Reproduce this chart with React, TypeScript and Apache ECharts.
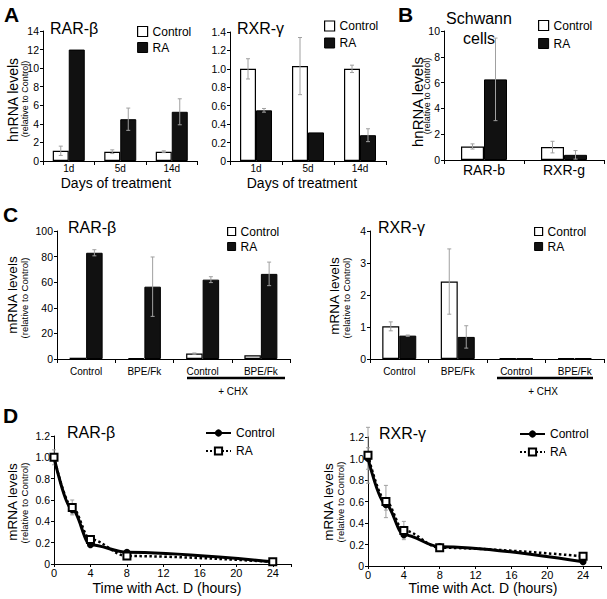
import React, { useEffect, useRef } from 'react';
import * as echarts from 'echarts';

const FONT = '"Liberation Sans", Arial, Helvetica, sans-serif';

// ---------- Panel A: hnRNA, days of treatment ----------
const daysCats = ['1d', '5d', '14d'];
const aRarControl = [1.1, 1.0, 1.0];
const aRarControlErr = [0.5, 0.2, 0.1];
const aRarRA = [12.0, 4.5, 5.3];
const aRarRAErr = [0, 1.2, 1.4];
const aRxrControl = [1.0, 1.03, 1.0];
const aRxrControlErr = [0.11, 0.31, 0.04];
const aRxrRA = [0.55, 0.31, 0.28];
const aRxrRAErr = [0.02, 0, 0.07];

// ---------- Panel B: Schwann cells ----------
const bCats = ['RAR-b', 'RXR-g'];
const bControl = [1.05, 1.0];
const bControlErr = [0.2, 0.45];
const bRA = [6.25, 0.4];
const bRAErr = [3.2, 0.33];

// ---------- Panel C: mRNA ----------
const cCats = ['Control', 'BPE/Fk', 'Control', 'BPE/Fk'];
const cRarControl = [1.0, 0.7, 4.2, 2.9];
const cRarControlErr = [0, 0, 0.5, 0];
const cRarRA = [83, 56.5, 62, 66.5];
const cRarRAErr = [2.4, 23.2, 2.3, 9.2];
const cRxrControl = [1.02, 2.42, 0.02, 0.02];
const cRxrControlErr = [0.14, 1.02, 0, 0];
const cRxrRA = [0.73, 0.69, 0.02, 0.03];
const cRxrRAErr = [0.02, 0.35, 0, 0];

// ---------- Panel D: time with Act. D ----------
const dHours = [0, 2, 4, 8, 24];
const dRarControl = [1.0, 0.51, 0.18, 0.11, 0.02];
const dRarControlErr = [0.07, 0.04, 0.01, 0.01, 0];
const dRarRA = [1.0, 0.53, 0.23, 0.075, 0.02];
const dRarRAErr = [0.03, 0.07, 0.02, 0.01, 0];
const dRxrControl = [1.0, 0.57, 0.29, 0.18, 0.04];
const dRxrControlErr = [0.1, 0.05, 0.03, 0.02, 0];
const dRxrRA = [1.03, 0.6, 0.33, 0.17, 0.09];
const dRxrRAErr = [0.26, 0.15, 0.085, 0.02, 0];

const dec1 = (v: number) => (v === 0 ? '0' : v.toFixed(1));

function barErrData(ctrl: number[], ctrlErr: number[], ra: number[], raErr: number[]) {
  const out: number[][] = [];
  ctrl.forEach((v, i) => { if (ctrlErr[i] > 0) out.push([i, v, ctrlErr[i], -1]); });
  ra.forEach((v, i) => { if (raErr[i] > 0) out.push([i, v, raErr[i], 1]); });
  return out;
}
function pointErrData(xs: number[], ys: number[], errs: number[]) {
  const out: number[][] = [];
  xs.forEach((x, i) => { if (errs[i] > 0) out.push([x, ys[i], errs[i], 0]); });
  return out;
}

function errSeries(gi: number, data: number[][], halfOffset: number, z = 4) {
  return {
    type: 'custom',
    xAxisIndex: gi,
    yAxisIndex: gi,
    data,
    z,
    silent: true,
    encode: { x: 0, y: 1 },
    renderItem: (params: any, api: any) => {
      const x0 = api.value(0);
      const v = api.value(1);
      const e = api.value(2);
      const side = api.value(3);
      const p1 = api.coord([x0, v + e]);
      const p2 = api.coord([x0, Math.max(0, v - e)]);
      const x = p1[0] + side * halfOffset;
      const c = 2;
      const st = { stroke: '#a0a0a0', lineWidth: 1 };
      return {
        type: 'group',
        children: [
          { type: 'line', shape: { x1: x, y1: p1[1], x2: x, y2: p2[1] }, style: st },
          { type: 'line', shape: { x1: x - c, y1: p1[1], x2: x + c, y2: p1[1] }, style: st },
          { type: 'line', shape: { x1: x - c, y1: p2[1], x2: x + c, y2: p2[1] }, style: st },
        ],
      };
    },
  };
}

const axisLine = { show: true, lineStyle: { color: '#000', width: 1 } };

function catX(gi: number, data: string[], fs: number, margin: number) {
  return {
    type: 'category',
    gridIndex: gi,
    data,
    axisLine,
    axisTick: { show: true, length: 4, lineStyle: { color: '#000' } },
    axisLabel: { color: '#000', fontSize: fs, fontFamily: FONT, margin, interval: 0 },
    splitLine: { show: false },
  };
}
function valY(gi: number, max: number, interval: number, fmt?: any) {
  return {
    type: 'value',
    gridIndex: gi,
    min: 0,
    max,
    interval,
    axisLine,
    axisTick: { show: true, length: 3, lineStyle: { color: '#000' } },
    axisLabel: { color: '#000', fontSize: 10.5, fontFamily: FONT, margin: 4, formatter: fmt },
    splitLine: { show: false },
  };
}
function timeX(gi: number) {
  return {
    type: 'value',
    gridIndex: gi,
    min: 0,
    max: 26,
    interval: 4,
    axisLine,
    axisTick: { show: true, length: 3, lineStyle: { color: '#000' } },
    axisLabel: {
      color: '#000', fontSize: 11, fontFamily: FONT, margin: 3,
      formatter: (v: number) => (v % 4 === 0 ? String(v) : ''),
    },
    splitLine: { show: false },
  };
}

const ctrlStyle = { color: '#fff', borderColor: '#000', borderWidth: 1.2 };
const raStyle = { color: '#111', borderColor: '#000', borderWidth: 1 };

function barPair(gi: number, ctrl: number[], ra: number[], bw: number) {
  return [
    { type: 'bar', name: 'Control', xAxisIndex: gi, yAxisIndex: gi, data: ctrl, barWidth: bw, barGap: '0%', itemStyle: ctrlStyle, z: 2 },
    { type: 'bar', name: 'RA', xAxisIndex: gi, yAxisIndex: gi, data: ra, barWidth: bw, barGap: '0%', itemStyle: raStyle, z: 2 },
  ];
}

function linePair(gi: number, ctrl: number[], ra: number[]) {
  return [
    {
      type: 'line', name: 'D-Control', xAxisIndex: gi, yAxisIndex: gi,
      data: dHours.map((h, i) => [h, ctrl[i]]),
      smooth: 0.35, smoothMonotone: 'x',
      symbol: 'circle', symbolSize: 7,
      lineStyle: { color: '#000', width: 3 },
      itemStyle: { color: '#000' }, z: 5,
    },
    {
      type: 'line', name: 'D-RA', xAxisIndex: gi, yAxisIndex: gi,
      data: dHours.map((h, i) => [h, ra[i]]),
      smooth: 0.35, smoothMonotone: 'x',
      symbol: 'emptyRect', symbolSize: 7,
      lineStyle: { color: '#000', width: 2.5, type: 'dotted' },
      itemStyle: { color: '#000', borderWidth: 1.3 }, z: 6,
    },
  ];
}

function barLegend(left: number, top: number, gap: number, size: number) {
  return {
    orient: 'vertical', left, top, itemGap: gap, itemWidth: size, itemHeight: size, icon: 'rect',
    padding: 0, selectedMode: false,
    data: [
      { name: 'Control', itemStyle: { color: '#fff', borderColor: '#000', borderWidth: 1.2 } },
      { name: 'RA', itemStyle: { color: '#111', borderColor: '#000', borderWidth: 1 } },
    ],
    textStyle: { fontSize: 12, fontFamily: FONT, color: '#000' },
  };
}
function lineLegend(left: number, top: number) {
  return {
    orient: 'vertical', left, top, itemGap: 6, itemWidth: 25, itemHeight: 9,
    padding: 0, selectedMode: false,
    data: ['D-Control', 'D-RA'],
    formatter: (n: string) => n.replace('D-', ''),
    textStyle: { fontSize: 12, fontFamily: FONT, color: '#000' },
  };
}

function txt(x: number, y: number, text: string, size: number, o: any = {}) {
  return {
    type: 'text', x, y, rotation: o.rot || 0, silent: true,
    style: {
      text, fontSize: size, fontFamily: FONT, fontWeight: o.bold ? 'bold' : 'normal',
      fill: '#000', align: o.align || 'left', verticalAlign: 'middle',
    },
  };
}
const R90 = Math.PI / 2;

export default function App() {
  const ref = useRef<HTMLDivElement>(null);
  useEffect(() => {
    if (!ref.current) return;
    const chart = echarts.init(ref.current, undefined, { renderer: 'svg' });
    const gridBase = { containLabel: false, outerBoundsMode: 'none' };
    const option: any = {
      animation: false,
      backgroundColor: '#fff',
      textStyle: { fontFamily: FONT },
      grid: [
        { ...gridBase, left: 43, top: 31, width: 154.5, height: 130 },
        { ...gridBase, left: 230, top: 32, width: 156, height: 129 },
        { ...gridBase, left: 444, top: 31, width: 160, height: 129 },
        { ...gridBase, left: 57, top: 231, width: 233, height: 128 },
        { ...gridBase, left: 370, top: 231, width: 234, height: 128 },
        { ...gridBase, left: 54, top: 436, width: 237, height: 128 },
        { ...gridBase, left: 368, top: 437, width: 233, height: 129 },
      ],
      xAxis: [
        catX(0, daysCats, 10, 2),
        catX(1, daysCats, 10, 2),
        catX(2, bCats, 14, 3),
        catX(3, cCats, 10, 7),
        catX(4, cCats, 10, 7),
        timeX(5),
        timeX(6),
      ],
      yAxis: [
        valY(0, 14, 2),
        valY(1, 1.4, 0.2, dec1),
        valY(2, 10, 2),
        valY(3, 100, 20),
        valY(4, 4, 1),
        valY(5, 1.2, 0.2, dec1),
        valY(6, 1.2, 0.2, dec1),
      ],
      legend: [
        barLegend(137, 25.5, 4, 10),
        barLegend(324, 20, 5, 10),
        barLegend(538, 19.5, 6, 10),
        barLegend(227, 225.5, 3, 8),
        barLegend(534, 225.5, 3, 8),
        lineLegend(205, 427),
        lineLegend(519, 428),
      ],
      series: [
        ...barPair(0, aRarControl, aRarRA, 16),
        errSeries(0, barErrData(aRarControl, aRarControlErr, aRarRA, aRarRAErr), 8),
        ...barPair(1, aRxrControl, aRxrRA, 16),
        errSeries(1, barErrData(aRxrControl, aRxrControlErr, aRxrRA, aRxrRAErr), 8),
        ...barPair(2, bControl, bRA, 23),
        errSeries(2, barErrData(bControl, bControlErr, bRA, bRAErr), 11.5),
        ...barPair(3, cRarControl, cRarRA, 16.5),
        errSeries(3, barErrData(cRarControl, cRarControlErr, cRarRA, cRarRAErr), 8.25),
        ...barPair(4, cRxrControl, cRxrRA, 17),
        errSeries(4, barErrData(cRxrControl, cRxrControlErr, cRxrRA, cRxrRAErr), 8.5),
        errSeries(5, pointErrData(dHours, dRarControl, dRarControlErr), 0, 3),
        errSeries(5, pointErrData(dHours, dRarRA, dRarRAErr), 0, 3),
        ...linePair(5, dRarControl, dRarRA),
        errSeries(6, pointErrData(dHours, dRxrControl, dRxrControlErr), 0, 3),
        errSeries(6, pointErrData(dHours, dRxrRA, dRxrRAErr), 0, 3),
        ...linePair(6, dRxrControl, dRxrRA),
      ],
      graphic: [
        // panel letters
        txt(4, 14.5, 'A', 21, { bold: true }),
        txt(398, 14.5, 'B', 21, { bold: true }),
        txt(3, 214.5, 'C', 21, { bold: true }),
        txt(3, 415.5, 'D', 21, { bold: true }),
        // panel titles
        txt(50, 28, 'RAR-β', 16),
        txt(237, 28, 'RXR-γ', 16),
        txt(479, 18.5, 'Schwann', 16, { align: 'center' }),
        txt(479, 38.5, 'cells', 16, { align: 'center' }),
        txt(68, 227.5, 'RAR-β', 16),
        txt(378, 227.5, 'RXR-γ', 16),
        txt(67, 432, 'RAR-β', 16),
        txt(379, 433.5, 'RXR-γ', 16),
        // y axis titles
        txt(13, 100, 'hnRNA levels', 14, { rot: R90, align: 'center' }),
        txt(25, 99, '(relative to Control)', 9, { rot: R90, align: 'center' }),
        txt(417, 102, 'hnRNA levels', 15, { rot: R90, align: 'center' }),
        txt(427, 96, '(relative to Control)', 9, { rot: R90, align: 'center' }),
        txt(12.5, 295, 'mRNA levels', 13.5, { rot: R90, align: 'center' }),
        txt(24, 298, '(relative to Control)', 9.5, { rot: R90, align: 'center' }),
        txt(334, 296, 'mRNA levels', 13.5, { rot: R90, align: 'center' }),
        txt(346, 298, '(relative to Control)', 9.5, { rot: R90, align: 'center' }),
        txt(12.5, 502, 'mRNA levels', 13.5, { rot: R90, align: 'center' }),
        txt(24.5, 503, '(relative to Control)', 9.5, { rot: R90, align: 'center' }),
        txt(328, 502, 'mRNA levels', 13.5, { rot: R90, align: 'center' }),
        txt(340, 502, '(relative to Control)', 9.5, { rot: R90, align: 'center' }),
        // x axis titles
        txt(116, 183, 'Days of treatment', 14, { align: 'center' }),
        txt(302, 183, 'Days of treatment', 14, { align: 'center' }),
        txt(167, 588, 'Time with Act. D (hours)', 14, { align: 'center' }),
        txt(483, 588, 'Time with Act. D (hours)', 14, { align: 'center' }),
        // + CHX brackets
        { type: 'line', silent: true, shape: { x1: 187, y1: 378, x2: 285, y2: 378 }, style: { stroke: '#000', lineWidth: 2.5 } },
        { type: 'line', silent: true, shape: { x1: 497, y1: 378, x2: 593, y2: 378 }, style: { stroke: '#000', lineWidth: 2.5 } },
        txt(233, 391, '+ CHX', 10, { align: 'center' }),
        txt(543, 391, '+ CHX', 10, { align: 'center' }),
      ],
    };
    chart.setOption(option);
    return () => chart.dispose();
  }, []);
  return (
    <div
      ref={ref}
      style={{ position: 'fixed', left: 0, top: 0, width: 607, height: 599, background: '#fff' }}
    />
  );
}
